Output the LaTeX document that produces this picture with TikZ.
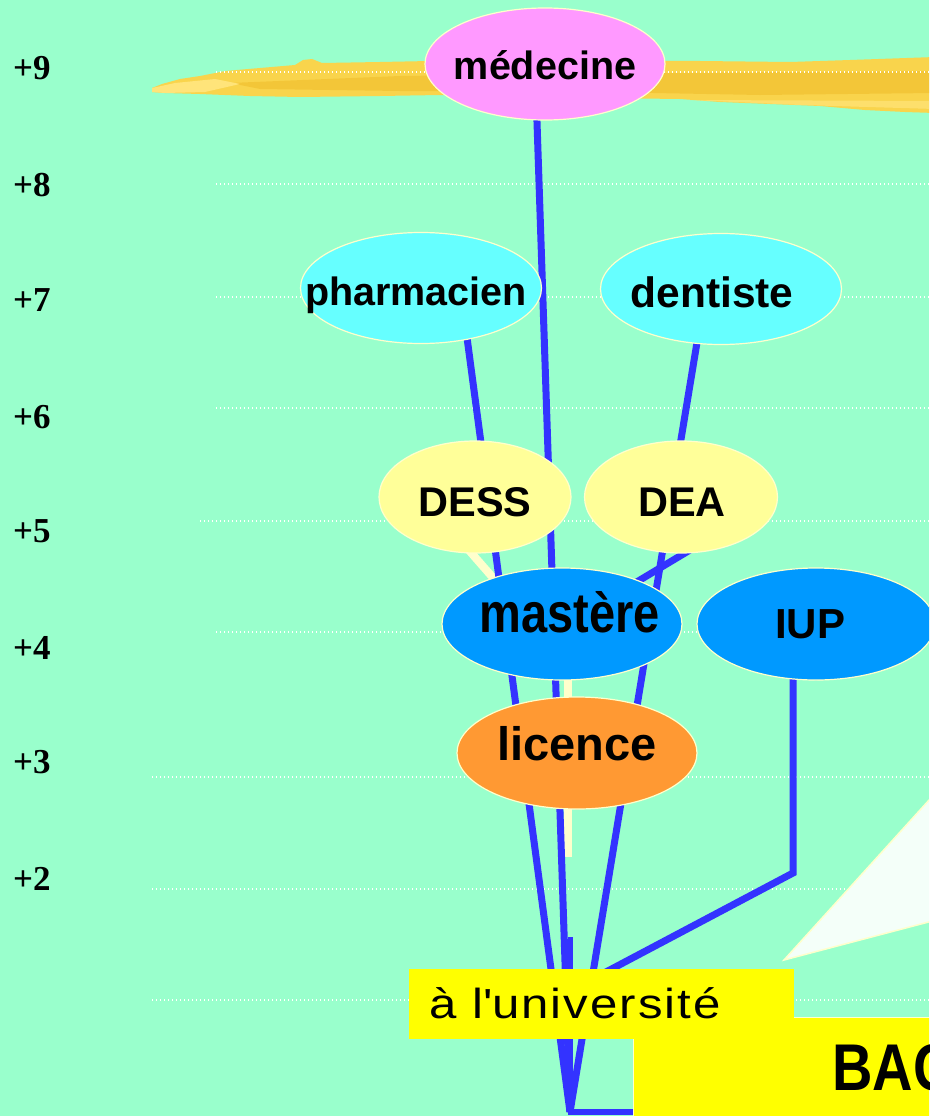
\documentclass[tikz,border=0pt]{standalone}
\usepackage{fontspec}
\usepackage{graphicx}
\usetikzlibrary{shapes.geometric}
\setmainfont{Liberation Sans}
\newfontfamily\lvlfont{Liberation Serif}
\newfontfamily\univfont[LetterSpace=4]{Liberation Sans}
\newcommand\efont[1]{\bfseries\fontsize{#1}{#1}\selectfont}
\newcommand\sq{\XeTeXglyph\XeTeXcharglyph"0027\relax}
\pgfdeclarelayer{back}
\pgfdeclarelayer{wires}
\pgfsetlayers{back,wires,main}
\definecolor{bg}{HTML}{99FFCC}
\definecolor{pinkE}{HTML}{FF99FF}
\definecolor{cyanE}{HTML}{66FFFF}
\definecolor{paleY}{HTML}{FFFF99}
\definecolor{blueE}{HTML}{0099FF}
\definecolor{orangeE}{HTML}{FF9933}
\definecolor{lineB}{HTML}{3333FF}
\definecolor{cream}{HTML}{FFFFCC}
\definecolor{boxY}{HTML}{FFFF00}
\definecolor{gold1}{HTML}{F9D44C}
\definecolor{gold2}{HTML}{F0BE2C}
\definecolor{gold3}{HTML}{FFE47A}
\definecolor{triW}{HTML}{F4FFF9}
\begin{document}
\begin{tikzpicture}[x=1pt,y=-1pt,
  ell/.style={ellipse, draw=cream, line width=1.2pt, inner sep=0pt, text depth=0pt},
  lvl/.style={anchor=base west, inner sep=0pt, font=\lvlfont\bfseries\fontsize{35}{35}\selectfont},
  dotln/.style={draw=white, line width=1.3pt, dash pattern=on 1.3pt off 2.7pt},
  bl/.style={draw=lineB, line width=7pt},
  pl/.style={draw=cream, line width=8pt},
  ybox/.style={fill=boxY, anchor=north west, inner sep=0pt}]
\useasboundingbox (0,0) rectangle (929,1116);
\clip (0,0) rectangle (929,1116);

\begin{pgfonlayer}{back}
\begin{scope}
\clip (0,0) rectangle (929,1116);
\fill[bg] (0,0) rectangle (929,1116);
% brush stroke
\fill[gold1] (152,88) -- (162,84) -- (180,79) -- (200,76) -- (225,71) -- (260,68) -- (295,65) -- (303,60) -- (312,59) -- (322,63) -- (380,62) -- (430,61) -- (520,61) -- (640,61) -- (700,61) -- (790,62) -- (850,60) -- (935,57) -- (935,113) -- (905,112) -- (865,110) -- (820,106) -- (770,104) -- (720,102) -- (680,99) -- (600,98) -- (520,97) -- (440,95) -- (380,96) -- (300,97) -- (250,96) -- (200,94) -- (165,93) -- (152,92) -- cycle;
\fill[gold2, opacity=.6] (230,83) -- (400,76) -- (650,73) -- (935,71) -- (935,93) -- (760,95) -- (600,92) -- (400,91) -- (260,89) -- cycle;
\fill[gold3] (152,88) -- (175,83) -- (215,79) -- (240,84) -- (205,92) -- (165,93) -- (152,92) -- cycle;
\fill[gold3, opacity=.7] (690,100) -- (935,101) -- (935,109) -- (800,105) -- cycle;
% dotted level lines
\draw[dotln] (216,72) -- (929,72);
\draw[dotln] (216,184) -- (929,184);
\draw[dotln] (216,297) -- (929,297);
\draw[dotln] (216,408) -- (929,408);
\draw[dotln] (200,521) -- (929,521);
\draw[dotln] (216,632) -- (929,632);
\draw[dotln] (152,777) -- (929,777);
\draw[dotln] (152,889) -- (929,889);
\draw[dotln] (152,1000) -- (929,1000);
% callout pointer
\filldraw[fill=triW, draw=cream, line width=1.5pt] (784,960) -- (940,788) -- (940,919) -- cycle;
\end{scope}
\end{pgfonlayer}

% level labels
\node[lvl] (l9) at (13,79) {+9};
\node[lvl] (l8) at (13,196) {+8};
\node[lvl] (l7) at (13,311) {+7};
\node[lvl] (l6) at (13,428) {+6};
\node[lvl] (l5) at (13,542) {+5};
\node[lvl] (l4) at (13,659) {+4};
\node[lvl] (l3) at (13,773) {+3};
\node[lvl] (l2) at (13,890) {+2};

% ellipses
\node[ell, fill=pinkE, minimum width=240pt, minimum height=112pt, text height=32pt, font=\efont{39.5}] (med) at (545,64) {\makebox[0pt]{médecine}};
\node[ell, fill=cyanE, minimum width=241pt, minimum height=111pt, text height=34pt, font=\efont{39.5}] (pharm) at (421,288) {\makebox[0pt]{\hspace*{-10pt}pharmacien}};
\node[ell, fill=cyanE, minimum width=241pt, minimum height=111pt, text height=36pt, font=\efont{42.5}] (dent) at (721,289) {\makebox[0pt]{\hspace*{-18pt}dentiste}};
\node[ell, fill=paleY, minimum width=192pt, minimum height=112pt, text height=38pt, font=\efont{41.5}] (dess) at (475,497) {\makebox[0pt]{DESS}};
\node[ell, fill=paleY, minimum width=193pt, minimum height=112pt, text height=38pt, font=\efont{41.5}] (dea) at (681,497) {\makebox[0pt]{\hspace*{2pt}DEA}};
\node[ell, fill=blueE, minimum width=240pt, minimum height=112pt, text height=16pt, font=\efont{47}] (mast) at (562,624) {\makebox[0pt]{\hspace*{16pt}\scalebox{1}[1.19]{mastère}}};
\node[ell, fill=blueE, minimum width=238pt, minimum height=112pt, text height=28pt, font=\efont{42}] (iup) at (816,624) {\makebox[0pt]{\hspace*{-12pt}IUP}};
\node[ell, fill=orangeE, minimum width=240pt, minimum height=112pt, text height=14pt, font=\efont{47}] (lic) at (577,753) {\makebox[0pt]{licence}};

% yellow boxes
\node[ybox, draw=cream, line width=1pt, minimum width=310pt, minimum height=110pt] (bac) at (633,1017) {};
\node[anchor=base west, inner sep=0pt, font=\efont{56}] (bactxt) at (832,1090) {\scalebox{1}[1.18]{BAC}};
\node[ybox, minimum width=385pt, minimum height=70pt] (univ) at (409,969) {};
\node[anchor=base west, inner sep=0pt, font=\univfont\fontsize{42}{42}\selectfont] (univtxt) at (429,1018) {\scalebox{1.17}[1]{à l\sq université}};

% connectors
\begin{pgfonlayer}{wires}
\begin{scope}
\clip (0,0) rectangle (929,1116);
\coordinate (base) at (570,1112);
\coordinate (iupknee) at (793,873);
\coordinate (ujoin) at (570,991);
\coordinate (tjoin) at (570,937);
\coordinate (pend) at (568,857);
\draw[pl] ([xshift=-15pt,yshift=-43pt]dess.center) -- ([xshift=-47pt,yshift=21pt]mast.center);
\draw[pl] ([xshift=6pt]mast.center) -- (pend);
\draw[bl] ([xshift=-9.4pt,yshift=-16pt]med.center) -- (base);
\draw[bl] ([xshift=41pt,yshift=-12pt]pharm.center) -- (base);
\draw[bl] ([xshift=-17pt,yshift=-11pt]dent.center) -- (base);
\draw[bl] ([xshift=19pt,yshift=-47pt]dea.center) -- ([xshift=38pt,yshift=20pt]mast.center);
\draw[bl] ([xshift=-23pt]iup.center) -- (iupknee) -- (ujoin);
\draw[bl, line width=5pt] (tjoin) -- (base);
\draw[bl, line width=6pt] ([xshift=-2pt]base) -- (base -| bac.west);
\end{scope}
\end{pgfonlayer}
\end{tikzpicture}
\end{document}
